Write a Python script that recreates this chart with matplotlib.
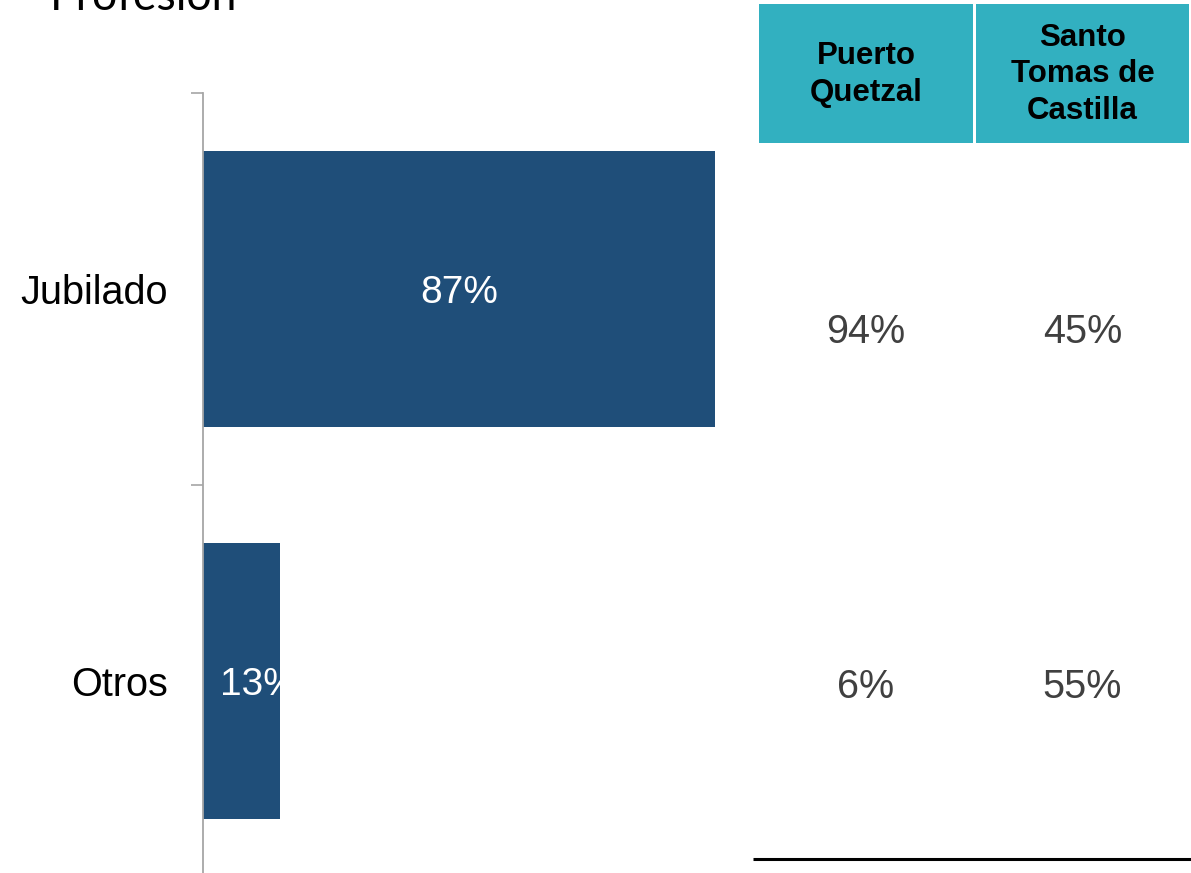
import matplotlib.pyplot as plt
from matplotlib.patches import Rectangle

# data
categorias = ["Jubilado", "Otros"]
valores = [87, 13]
etiquetas = ["87%", "13%"]

columnas = ["Puerto\nQuetzal", "Santo\nTomas de\nCastilla"]
tabla = [["94%", "45%"],
         ["6%", "55%"]]

W, H = 1191, 873
fig = plt.figure(figsize=(W / 100, H / 100), dpi=100)

azul = "#1F4E79"
teal = "#32B0C0"
gris = "#A6A6A6"

# bar chart
ax = fig.add_axes([203 / W, -4 / H, 588.5 / W, 784 / H])
y = list(range(len(categorias)))
bars = ax.barh(y, valores, height=0.705, color=azul)
ax.set_xlim(0, 100)
ax.set_ylim(1.5, -0.5)
ax.set_yticks(y)
ax.set_yticklabels(categorias, fontsize=28.5, family="Liberation Sans")
ax.set_yticks([-0.5, 0.5, 1.5], minor=True)
ax.tick_params(axis="y", which="major", length=0, pad=25)
ax.tick_params(axis="y", which="minor", length=8.6, width=1.2, color=gris)
ax.set_xticks([])
for s in ["top", "right", "bottom"]:
    ax.spines[s].set_visible(False)
ax.spines["left"].set_color(gris)
ax.spines["left"].set_linewidth(1.3)

for b, v, lab in zip(bars, valores, etiquetas):
    t = ax.text(max(v / 2, 9.5), b.get_y() + b.get_height() / 2, lab,
                ha="center", va="center_baseline", color="white", fontsize=28,
                family="Liberation Sans")
    t.set_clip_path(b)

# title (cut at top like the original)
fig.text(50 / W, 1 - 10 / H, "Profesión", fontsize=32, family="Lato",
         ha="left", va="baseline", color="black")

# table at the right, in pixel coordinates
tx = fig.add_axes([0, 0, 1, 1])
tx.set_xlim(0, W)
tx.set_ylim(H, 0)
tx.axis("off")
tx.patch.set_alpha(0)

col_x = [(759, 973), (976, 1189)]
head_y = (4, 143)
row_y = [328, 683]
for (x0, x1), nombre in zip(col_x, columnas):
    tx.add_patch(Rectangle((x0, head_y[0]), x1 - x0, head_y[1] - head_y[0],
                           color=teal, lw=0))
    tx.text((x0 + x1) / 2, (head_y[0] + head_y[1]) / 2 + 1, nombre,
            ha="center", va="center", fontsize=22.5, fontweight="bold",
            family="Liberation Sans", linespacing=1.3)

for fila, yy in zip(tabla, row_y):
    for (x0, x1), val in zip(col_x, fila):
        tx.text((x0 + x1) / 2, yy, val, ha="center", va="center_baseline",
                fontsize=28.5, color="#404040", family="Liberation Sans")

tx.plot([753, W], [858.5, 858.5], color="black", lw=2.2, solid_capstyle="butt")

fig.savefig("out.png", dpi=100)
